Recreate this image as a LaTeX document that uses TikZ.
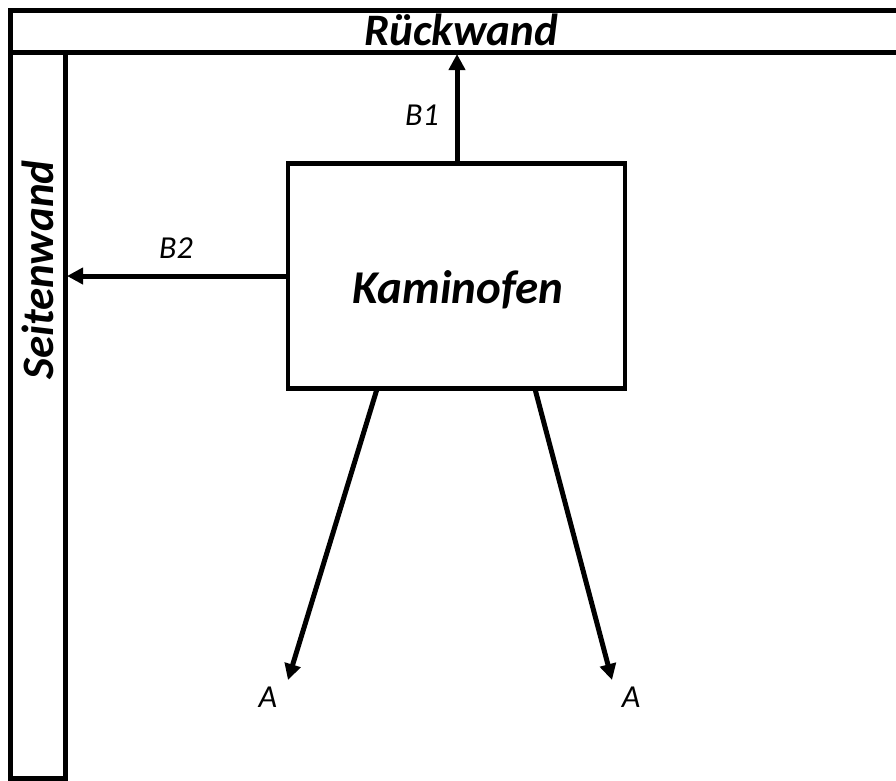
\documentclass[tikz,border=0pt]{standalone}
\usepackage{fontspec}
\setmainfont{Carlito}
\usetikzlibrary{arrows.meta}
\begin{document}
\begin{tikzpicture}[x=1pt,y=-1pt,
  wall/.style={draw=black,line width=5pt,fill=white},
  stove/.style={draw=black,line width=4.5pt,fill=white,minimum width=337pt,minimum height=225pt,inner sep=0pt},
  flow/.style={line width=5pt,-{Triangle[length=16pt,width=16pt]}},
  lbl/.style={font=\fontsize{32}{36}\selectfont\itshape,inner sep=0pt},
  walllbl/.style={font=\fontsize{45}{50}\selectfont\bfseries\itshape,inner sep=0pt}]
\useasboundingbox (0,0) rectangle (896,780);
\fill[white] (0,0) rectangle (896,780);
\draw[wall] (10,10) rectangle (910,52);
\draw[wall] (10,52) rectangle (65,778);
\node[walllbl] (rw) at (461,30) {Rückwand};
\node[walllbl,rotate=90] (sw) at (38,270) {Seitenwand};
\node[stove] (k) at (456.5,276) {};
\node[font=\fontsize{47}{52}\selectfont\bfseries\itshape,inner sep=0pt] (kt) at (458,290) {Kaminofen};
\coordinate (b1s) at (457,163);
\coordinate (b1e) at (457,54);
\coordinate (b2s) at (288,276);
\coordinate (b2e) at (67,276);
\coordinate (a1s) at (377,389);
\coordinate (a1e) at (288,680);
\coordinate (a2s) at (535,389);
\coordinate (a2e) at (612,680);
\draw[flow] (b1s) -- (b1e);
\draw[flow] (b2s) -- (b2e);
\draw[flow] (a1s) -- (a1e);
\draw[flow] (a2s) -- (a2e);
\node[lbl] (lb1) at (422,115) {B1};
\node[lbl] (lb2) at (176,248) {B2};
\node[lbl] (la1) at (268,697) {A};
\node[lbl] (la2) at (631,697) {A};
\end{tikzpicture}
\end{document}
